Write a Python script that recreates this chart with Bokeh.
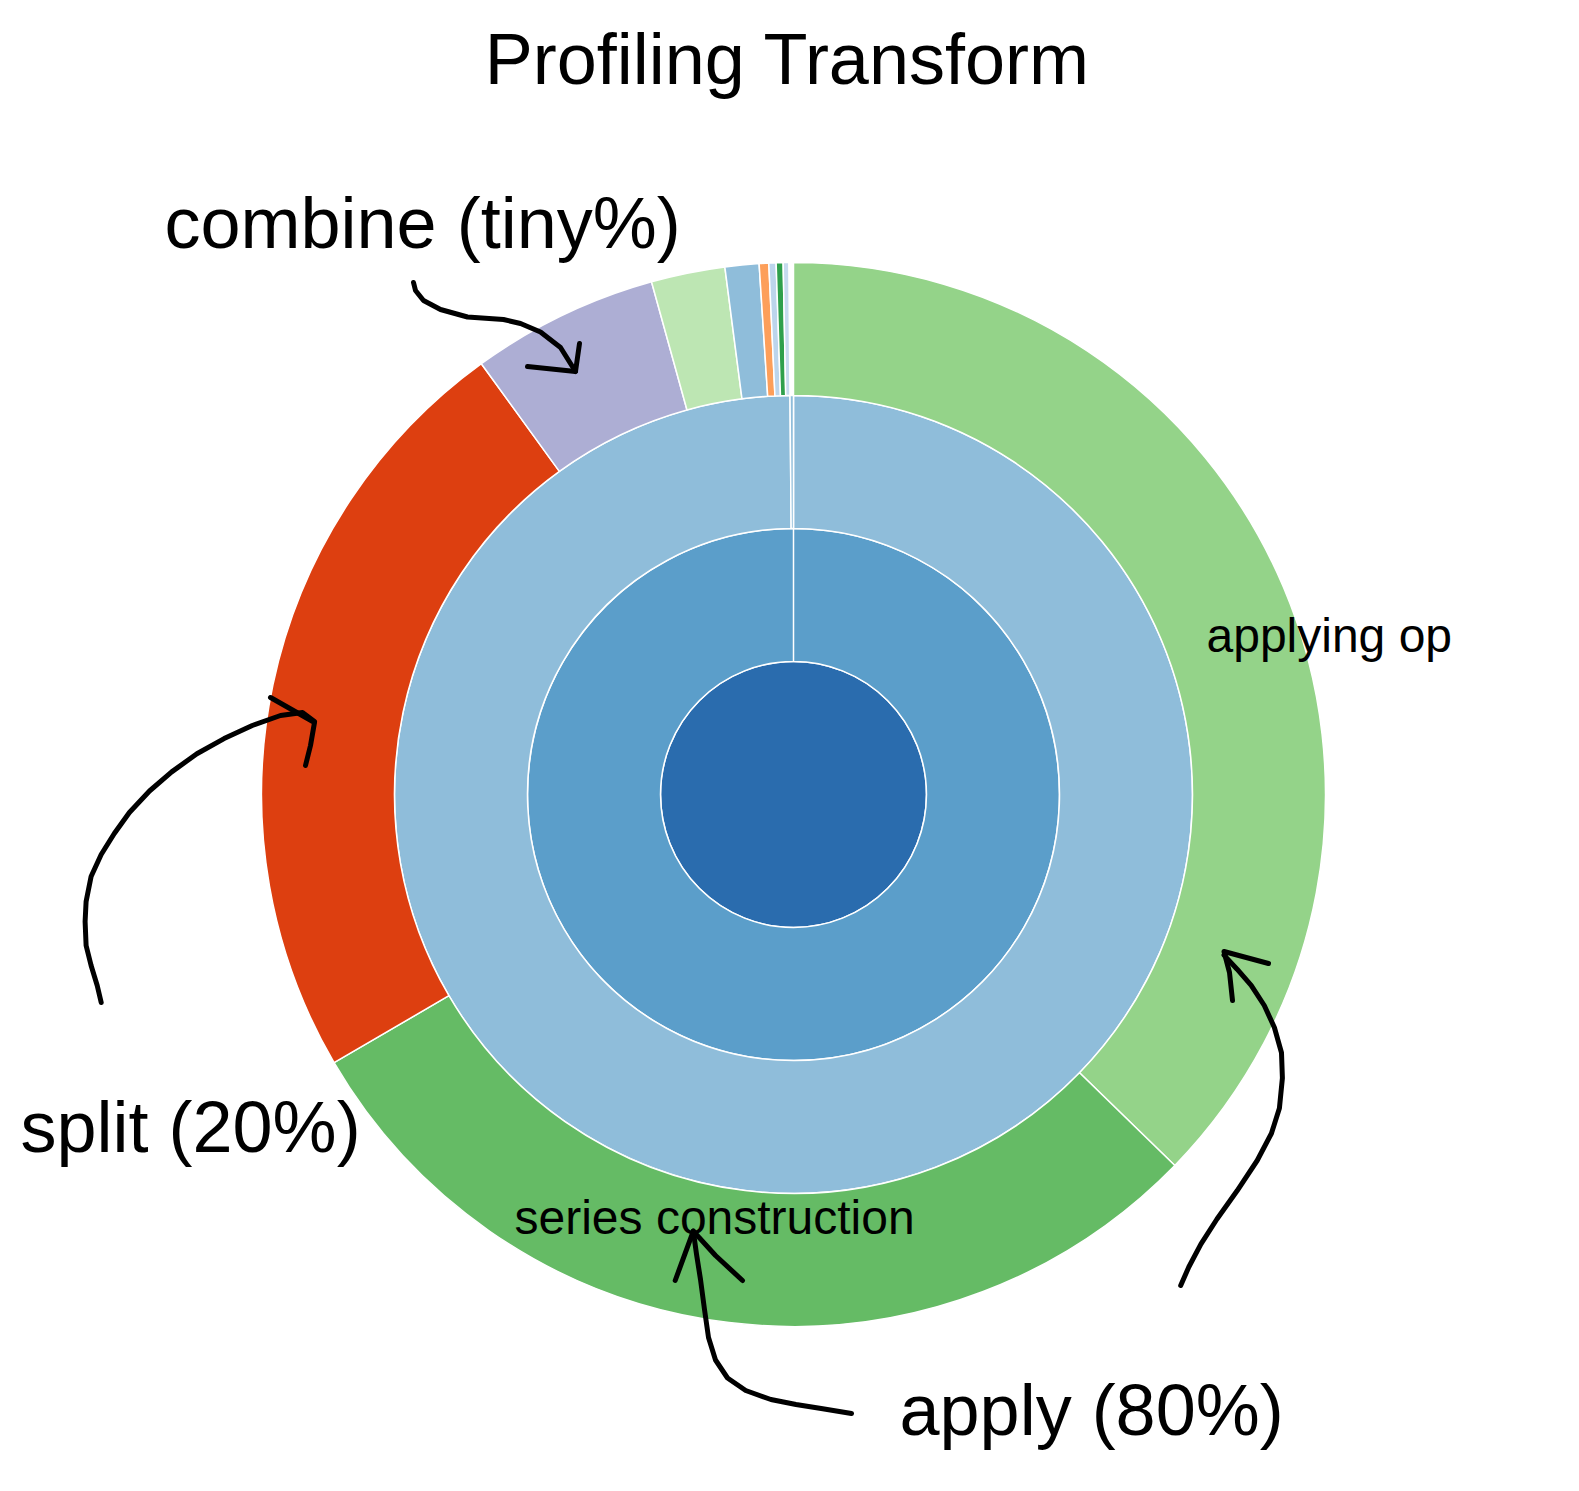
import numpy as np
from bokeh.plotting import figure
from bokeh.models import Range1d
from bokeh.core.properties import value
from bokeh.embed import file_html
from bokeh.resources import INLINE

# ---------------- data (share of total time, %) ----------------
ring1_names = ["transform"]
ring1_values = [100.0]
ring1_colors = ["#2a6cae"]

ring2_names = ["groupby transform"]
ring2_values = [100.0]
ring2_colors = ["#5b9eca"]

ring3_names = ["python transform", "other"]
ring3_values = [99.86, 0.14]
ring3_colors = ["#8fbdda", "#8fbdda"]

ring4_names = ["applying op", "series construction", "split", "combine",
               "concat", "index ops", "setitem", "reindex", "dtype check", "misc"]
ring4_values = [37.28, 29.31, 23.43, 5.68, 2.24, 1.03, 0.29, 0.22, 0.21, 0.17]
ring4_colors = ["#94d389", "#65bb65", "#dd3f10", "#adaed4", "#bde6b3",
                "#8fbdda", "#fd9f5a", "#bcd5ec", "#2fa04c", "#c6dbef"]

labels_shown = ["applying op", "series construction"]

title_text = "Profiling Transform"
notes = ["combine (tiny%)", "split (20%)", "apply (80%)"]

# ---------------- layout ----------------
W, H = 1579, 1491
CX, CY = 793, 794          # centre in image pixels (y down)
R = [0, 133, 266, 399, 532]

def Y(y):
    return H - y

p = figure(width=W, height=H, output_backend="svg", toolbar_location=None,
           x_range=Range1d(0, W), y_range=Range1d(0, H), min_border=0)
p.axis.visible = False
p.grid.visible = False
p.outline_line_color = None
p.background_fill_color = "white"
p.border_fill_color = "white"


def ring(values, colors, level, start_pct=0.0):
    vals = np.asarray(values, dtype=float)
    if level == 0:
        # root: a full disc
        p.circle(x=[CX], y=[Y(CY)], radius=R[1], fill_color=colors,
                 line_color="white", line_width=1.5)
        return
    cum = start_pct + np.concatenate([[0.0], np.cumsum(vals)])
    t0 = cum[:-1] * 3.6
    t1 = cum[1:] * 3.6
    # clockwise from 12 o'clock -> math angles
    start = np.radians(90.0 - t1)
    end = np.radians(90.0 - t0)
    n = len(vals)
    p.annular_wedge(x=[CX] * n, y=[Y(CY)] * n,
                    inner_radius=R[level], outer_radius=R[level + 1],
                    start_angle=start, end_angle=end,
                    fill_color=colors, line_color="white", line_width=1.5)

ring(ring1_values, ring1_colors, 0)
ring(ring2_values, ring2_colors, 1)
ring(ring3_values, ring3_colors, 2)
ring(ring4_values, ring4_colors, 3)

FONT = value("Liberation Sans")

# title
p.text(x=[787], y=[Y(58)], text=[title_text], text_font=FONT,
       text_font_size="72px", text_align="center", text_baseline="alphabetic",
       text_color="black")

# slice labels
p.text(x=[1206, 514], y=[Y(635), Y(1217)], text=labels_shown, text_font=FONT,
       text_font_size="48px", text_align="left", text_baseline="alphabetic",
       text_color="black")

# annotations
p.text(x=[164, 20, 899], y=[Y(222), Y(1126), Y(1409)], text=notes, text_font=FONT,
       text_font_size="72px", text_align="left", text_baseline="alphabetic",
       text_color="black")

# hand drawn arrows (image pixel paths)
arrow_combine = [(413, 282), (415, 290), (423, 300), (440, 309), (467, 316.5),
                 (503, 319), (520, 323), (540, 331.5), (560, 347), (575, 371)]
head_combine = [(527, 366), (575, 371), (579, 343)]

arrow_split = [(100.7, 1002), (96.7, 985), (90.6, 965), (85.6, 945), (84.6, 921),
               (85.6, 901), (90.6, 876), (100.7, 854), (113.8, 833), (128.9, 812),
               (149, 790.5), (171.2, 771.4), (196.4, 753.2), (223.6, 738.1),
               (251.8, 725), (280, 715), (302, 712), (314, 721)]
head_split = [(270, 697), (314, 722), (310, 745), (305, 765)]

arrow_series = [(851, 1413), (820.7, 1408), (795.5, 1404), (770.4, 1399),
                (745.2, 1390), (727, 1377.5), (715, 1359.5), (708, 1337),
                (704, 1309), (700, 1279), (696, 1253.7), (692.8, 1230.6)]
head_series = [(674.7, 1280), (692.8, 1230.6), (715, 1255), (742, 1280)]

arrow_apply = [(1180.2, 1285), (1188.3, 1266.5), (1200.4, 1243.6), (1216.5, 1218.5),
               (1236.6, 1190.3), (1256.7, 1160), (1270.9, 1133), (1278.9, 1107.7),
               (1281.9, 1077.5), (1281, 1052.3), (1273.9, 1027), (1263.8, 1005),
               (1250.7, 984.8), (1236.6, 968.7), (1223.5, 954.6)]
head_apply = [(1268, 963), (1223.5, 951), (1229, 972), (1232, 1000)]

paths = [arrow_combine, head_combine, arrow_split, head_split,
         arrow_series, head_series, arrow_apply, head_apply]
xs = [[pt[0] for pt in path] for path in paths]
ys = [[Y(pt[1]) for pt in path] for path in paths]
p.multi_line(xs=xs, ys=ys, line_color="black", line_width=5,
             line_join="round", line_cap="round")

open("out.html", "w").write(file_html(p, INLINE))
